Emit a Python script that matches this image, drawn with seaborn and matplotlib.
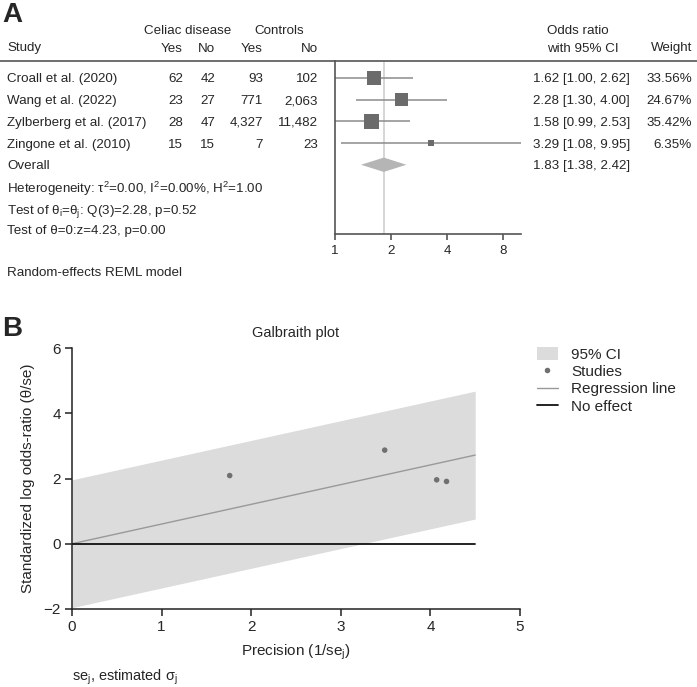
import numpy as np
import pandas as pd
import matplotlib.pyplot as plt
import matplotlib.transforms as mtransforms
from matplotlib.patches import Patch
from matplotlib.lines import Line2D
import seaborn as sns

# ---- data ----
studies = ["Croall et al. (2020)", "Wang et al. (2022)",
           "Zylberberg et al. (2017)", "Zingone et al. (2010)"]
celiac_yes = ["62", "23", "28", "15"]
celiac_no = ["42", "27", "47", "15"]
control_yes = ["93", "771", "4,327", "7"]
control_no = ["102", "2,063", "11,482", "23"]
odds_ratio = [1.62, 2.28, 1.58, 3.29]
ci_low = [1.00, 1.30, 0.99, 1.08]
ci_high = [2.62, 4.00, 2.53, 9.95]
weights = [33.56, 24.67, 35.42, 6.35]
overall_or, overall_low, overall_high = 1.83, 1.38, 2.42

# Galbraith plot
precision = [4.07, 3.49, 4.18, 1.76]
std_effect = [1.96, 2.87, 1.91, 2.09]
slope = 0.604
x_band_end = 4.5

W, H = 697, 687
sns.set_theme(style="white")
plt.rcParams['font.family'] = ['Liberation Sans', 'DejaVu Sans']
plt.rcParams['mathtext.fontset'] = 'custom'
plt.rcParams['mathtext.rm'] = 'Liberation Sans'
plt.rcParams['mathtext.it'] = 'Liberation Sans:italic'

fig = plt.figure(figsize=(W / 100, H / 100), dpi=100)


def fx(px):
    return px / W


def fy(py):
    return 1 - py / H


FS_A = 9.6
FS_B = 11
VA = "center_baseline"
spine_col = "#555555"

# ---- Panel A: forest plot ----
axA = fig.add_axes([fx(335), fy(234), fx(521) - fx(335), fy(61) - fy(234)])
rows = np.arange(len(studies))
df = pd.DataFrame({"or": odds_ratio, "row": rows, "w": weights})

k = 3.3
axA.axvline(overall_or, color="#cfcfcf", lw=1.2, zorder=0)
axA.hlines(rows, ci_low, ci_high, color="#8c8c8c", lw=1.1, zorder=1)
sns.scatterplot(data=df, x="or", y="row", size="w",
                sizes=(k * min(weights), k * max(weights)),
                marker="s", color="#6b6b6b", edgecolor="none",
                legend=False, ax=axA, zorder=2)
r_ov = len(studies)
axA.fill([overall_low, overall_or, overall_high, overall_or],
         [r_ov, r_ov - 0.33, r_ov, r_ov + 0.33], color="#b5b5b5", lw=0)

axA.set_xscale("log", base=2)
axA.set_xlim(1, 10)
axA.set_ylim(7.19, -0.78)
axA.set_xticks([1, 2, 4, 8])
axA.set_xticklabels(["1", "2", "4", "8"], fontsize=FS_A)
axA.set_yticks([])
axA.set_xlabel("")
axA.set_ylabel("")
axA.minorticks_off()
for s in ["top", "right"]:
    axA.spines[s].set_visible(False)
for s in ["left", "bottom"]:
    axA.spines[s].set_color(spine_col)
    axA.spines[s].set_linewidth(1.2)
axA.tick_params(axis="x", direction="out", length=4, width=1.2,
                color=spine_col, pad=4, bottom=True)

tr = mtransforms.blended_transform_factory(fig.transFigure, axA.transData)

# top rule across the whole figure
axA.plot([0, 1], [-0.78, -0.78], transform=tr, color=spine_col, lw=1.2,
         clip_on=False)

# headers
fig.text(fx(188), fy(30), "Celiac disease", ha="center", va=VA, fontsize=FS_A)
fig.text(fx(279), fy(30), "Controls", ha="center", va=VA, fontsize=FS_A)
fig.text(fx(7), fy(47), "Study", ha="left", va=VA, fontsize=FS_A)
for xp, t in [(183, "Yes"), (215, "No"), (263, "Yes"), (318, "No")]:
    fig.text(fx(xp), fy(47), t, ha="right", va=VA, fontsize=FS_A)
fig.text(fx(547), fy(30), "Odds ratio", ha="left", va=VA, fontsize=FS_A)
fig.text(fx(547), fy(47), "with 95% CI", ha="left", va=VA, fontsize=FS_A)
fig.text(fx(692), fy(47), "Weight", ha="right", va=VA, fontsize=FS_A)

for i, name in enumerate(studies):
    axA.text(fx(7), i, name, transform=tr, ha="left", va=VA, fontsize=FS_A)
    for xp, col in [(183, celiac_yes), (215, celiac_no),
                    (263, control_yes), (318, control_no)]:
        axA.text(fx(xp), i, col[i], transform=tr, ha="right", va=VA,
                 fontsize=FS_A)
    axA.text(fx(533), i, f"{odds_ratio[i]:.2f} [{ci_low[i]:.2f}, {ci_high[i]:.2f}]",
             transform=tr, ha="left", va=VA, fontsize=FS_A)
    axA.text(fx(692), i, f"{weights[i]:.2f}%", transform=tr, ha="right",
             va=VA, fontsize=FS_A)

axA.text(fx(7), r_ov, "Overall", transform=tr, ha="left", va=VA, fontsize=FS_A)
axA.text(fx(533), r_ov, f"{overall_or:.2f} [{overall_low:.2f}, {overall_high:.2f}]",
         transform=tr, ha="left", va=VA, fontsize=FS_A)
axA.text(fx(7), 5, "Heterogeneity: τ$^2$=0.00, I$^2$=0.00%, H$^2$=1.00",
         transform=tr, ha="left", va=VA, fontsize=FS_A)
axA.text(fx(7), 6, r"Test of θ$_\mathrm{i}$=θ$_\mathrm{j}$: Q(3)=2.28, p=0.52",
         transform=tr, ha="left", va=VA, fontsize=FS_A)
axA.text(fx(7), 7, "Test of θ=0:z=4.23, p=0.00",
         transform=tr, ha="left", va=VA, fontsize=FS_A)
axA.text(fx(7), 8.94, "Random-effects REML model", transform=tr, ha="left",
         va=VA, fontsize=FS_A, clip_on=False)

fig.text(fx(2), fy(12), "A", ha="left", va=VA, fontsize=20, fontweight="bold")
fig.text(fx(2), fy(326), "B", ha="left", va=VA, fontsize=20, fontweight="bold")

# ---- Panel B: Galbraith plot ----
axB = fig.add_axes([fx(72), fy(609), fx(520) - fx(72), fy(348) - fy(609)])
xb = np.array([0, x_band_end])
axB.fill_between(xb, slope * xb - 1.96, slope * xb + 1.96, color="#dcdcdc",
                 lw=0, zorder=0)
sns.lineplot(x=xb, y=slope * xb, color="#999999", lw=1, ax=axB, zorder=1)
sns.lineplot(x=xb, y=[0, 0], color="#111111", lw=1.3, ax=axB, zorder=2)
sns.scatterplot(x=precision, y=std_effect, color="#707070", s=16,
                edgecolor="none", ax=axB, zorder=3)
axB.set_xlim(0, 5)
axB.set_ylim(-2, 6)
axB.set_xticks([0, 1, 2, 3, 4, 5])
axB.set_yticks([-2, 0, 2, 4, 6])
axB.set_yticklabels(["\u22122", "0", "2", "4", "6"])
axB.tick_params(labelsize=FS_B, direction="out", length=5, width=1.1,
                color="#222222", left=True, bottom=True, pad=3)
for s in ["top", "right"]:
    axB.spines[s].set_visible(False)
for s in ["left", "bottom"]:
    axB.spines[s].set_color("#222222")
    axB.spines[s].set_linewidth(1.1)
fig.text(fx(296), fy(332), "Galbraith plot", ha="center", va=VA,
         fontsize=FS_B * 0.95)
axB.set_xlabel(r"Precision (1/se$_\mathrm{j}$)", fontsize=FS_B, labelpad=6)
axB.set_ylabel("Standardized log odds-ratio (θ/se)", fontsize=FS_B, labelpad=6)

fig.text(fx(72), fy(674), r"se$_\mathrm{j}$, estimated σ$_\mathrm{j}$", ha="left",
         va=VA, fontsize=FS_B * 0.95)

handles = [Patch(facecolor="#dcdcdc", edgecolor="none", label="95% CI"),
           Line2D([], [], marker="o", ls="none", color="#707070", markersize=4,
                  markeredgewidth=0, label="Studies"),
           Line2D([], [], color="#999999", lw=1, label="Regression line"),
           Line2D([], [], color="#111111", lw=1.3, label="No effect")]
fig.legend(handles=handles, loc="upper left", bbox_to_anchor=(fx(537), fy(347)),
           frameon=False, fontsize=FS_B, handlelength=1.35, handleheight=0.9,
           handletextpad=0.9, labelspacing=0.18, borderpad=0, borderaxespad=0)

fig.savefig("out.png", dpi=100)
